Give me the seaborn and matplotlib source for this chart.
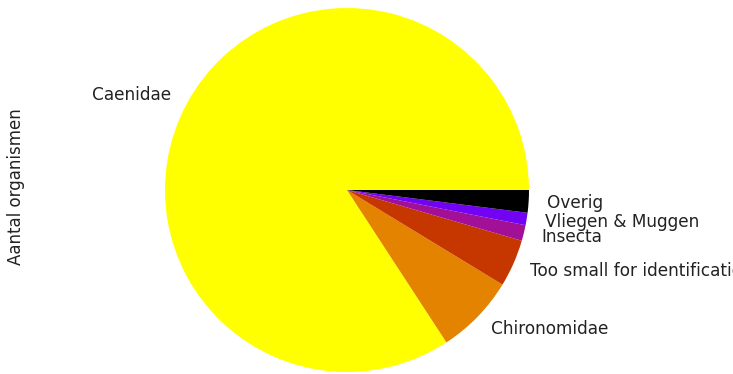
import matplotlib
matplotlib.use("Agg")
import matplotlib.pyplot as plt
import seaborn as sns

categories = ["Caenidae", "Chironomidae", "Too small for identification",
              "Insecta", "Vliegen & Muggen", "Overig"]
counts = [842, 71, 42, 14, 11, 20]
ylabel = "Aantal organismen"

plt.rcParams['font.family'] = ['DejaVu Sans']

cmap = plt.get_cmap("gnuplot_r")
colors = [cmap(i / (len(categories) - 1)) for i in range(len(categories))]
sns.set_palette(colors)

text_color = "#222222"
W, H = 733, 374
fig = plt.figure(figsize=(W / 100, H / 100), dpi=100)
ax = fig.add_axes([0, 0, 1, 1])
ax.pie(counts, labels=categories, colors=sns.color_palette(), startangle=0,
       counterclock=True, labeldistance=1.1, radius=1,
       wedgeprops={"linewidth": 0},
       textprops={"fontsize": 12.2, "color": text_color})
cx, cy, r = 347, 190, 182
ax.set_aspect("auto")
ax.set_xlim(-cx / r, (W - cx) / r)
ax.set_ylim(-(H - cy) / r, cy / r)
ax.set_frame_on(False)
ax.set_xticks([])
ax.set_yticks([])
ax.set_ylabel(ylabel, fontsize=12, color=text_color)
ax.yaxis.set_label_coords(25 / W, 1 - 187 / H)

fig.savefig("out.png", dpi=100, facecolor="white")
